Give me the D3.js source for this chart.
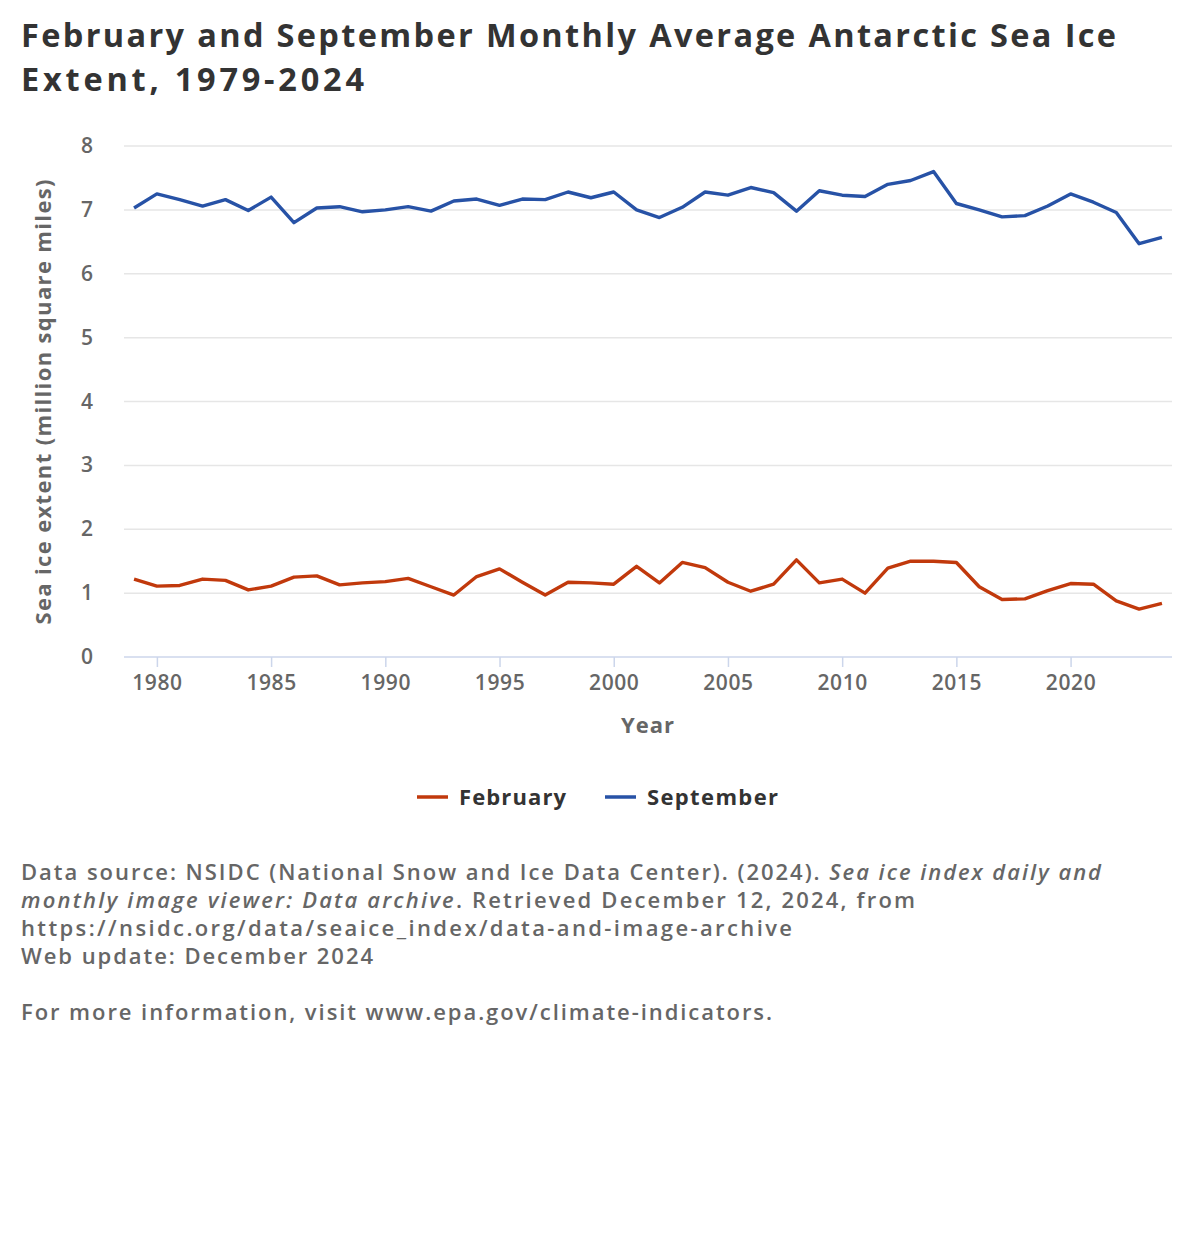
<!DOCTYPE html>
<html><head><meta charset="utf-8">
<script src="https://cdn.jsdelivr.net/npm/d3@7"></script>
<style>
body{margin:0;background:#fff;}
svg text{font-family:"Open Sans",sans-serif;}
</style></head>
<body><svg id="c" width="1182" height="1242"></svg>
<script>
const years = d3.range(1979, 2025);
const february = [1.22,1.11,1.12,1.22,1.20,1.05,1.11,1.25,1.27,1.13,1.16,1.18,1.23,1.10,0.97,1.26,1.38,1.17,0.97,1.17,1.16,1.14,1.42,1.16,1.48,1.40,1.17,1.03,1.14,1.52,1.16,1.22,1.00,1.39,1.50,1.50,1.48,1.10,0.90,0.91,1.04,1.15,1.14,0.88,0.75,0.84];
const september = [7.03,7.25,7.16,7.06,7.16,6.99,7.20,6.80,7.03,7.05,6.97,7.00,7.05,6.98,7.14,7.17,7.07,7.17,7.16,7.28,7.19,7.28,7.00,6.88,7.04,7.28,7.23,7.35,7.27,6.98,7.30,7.23,7.21,7.40,7.46,7.60,7.10,7.00,6.89,6.91,7.06,7.25,7.12,6.96,6.47,6.57];
const yTicks = [0,1,2,3,4,5,6,7,8];
const xTicks = [1980,1985,1990,1995,2000,2005,2010,2015,2020];
const seriesNames = ["February","September"];
const seriesColors = ["#c1390c","#2752a6"];
const titleLines = ["February and September Monthly Average Antarctic Sea Ice","Extent, 1979-2024"];

const svg = d3.select("#c");
const pLeft = 124, pRight = 1172, pTop = 146, pBottom = 657;
const x = d3.scaleLinear().domain([1978.56, 2024.44]).range([pLeft, pRight]);
const y = d3.scaleLinear().domain([0, 8]).range([pBottom, pTop]);

// title
const titleW = [1095, 343];
svg.append("g").selectAll("text").data(titleLines).join("text")
  .attr("x", 21).attr("y", (d,i)=>47 + i*44)
  .attr("font-size", 32.5).attr("font-weight", 700).attr("fill", "#333")
  .attr("textLength", (d,i)=>titleW[i]).attr("lengthAdjust", "spacing")
  .text(d=>d);

// gridlines
svg.append("g").selectAll("line").data(yTicks.filter(d=>d>0)).join("line")
  .attr("x1", pLeft).attr("x2", pRight).attr("y1", d=>y(d)).attr("y2", d=>y(d))
  .attr("stroke", "#e6e6e6").attr("stroke-width", 1.5);

// y labels
svg.append("g").selectAll("text").data(yTicks).join("text")
  .attr("x", 93).attr("y", d=>y(d)+7).attr("text-anchor","end")
  .attr("font-size", 21).attr("font-weight", 600).attr("fill", "#666")
  .text(d=>d);

// x axis
const xa = svg.append("g").attr("transform", `translate(0,${pBottom})`)
  .call(d3.axisBottom(x).tickValues(xTicks).tickFormat(d3.format("d")).tickSize(10).tickPadding(8));
xa.select(".domain").attr("stroke", "#ccd6eb").attr("stroke-width", 1.5).attr("d", `M${pLeft},0H${pRight}`);
xa.selectAll(".tick line").attr("stroke", "#ccd6eb").attr("stroke-width", 1.5);
xa.selectAll(".tick text").attr("font-size", 21).attr("font-weight", 600).attr("fill", "#666")
  .attr("letter-spacing", 0.6).attr("font-family", "'Open Sans',sans-serif");

// axis titles
svg.append("text").attr("x", 648).attr("y", 733).attr("text-anchor","middle")
  .attr("font-size", 22).attr("font-weight", 700).attr("fill", "#666")
  .attr("letter-spacing", 1).text("Year");
svg.append("text").attr("transform", "translate(51,402) rotate(-90)").attr("text-anchor","middle")
  .attr("font-size", 22).attr("font-weight", 700).attr("fill", "#666")
  .attr("textLength", 445).attr("lengthAdjust", "spacing")
  .text("Sea ice extent (million square miles)");

// lines
const line = d3.line().x((d,i)=>x(years[i])).y(d=>y(d));
[february, september].forEach((s, k) => {
  svg.append("path").datum(s).attr("d", line).attr("fill","none")
    .attr("stroke", seriesColors[k]).attr("stroke-width", 3.4).attr("stroke-linejoin","round");
});

// legend
const legX = [417, 605];
const legW = [107, 131];
const lg = svg.append("g").selectAll("g").data(seriesNames).join("g")
  .attr("transform", (d,i)=>`translate(${legX[i]},797)`);
lg.append("line").attr("x1",0).attr("x2",31).attr("y1",0).attr("y2",0)
  .attr("stroke",(d,i)=>seriesColors[i]).attr("stroke-width",3.5);
lg.append("text").attr("x", 42).attr("y", 8).attr("font-size", 22).attr("font-weight", 700)
  .attr("textLength", (d,i)=>legW[i]).attr("lengthAdjust", "spacing")
  .attr("fill", "#333").text(d=>d);

// footer
const ft = svg.append("g").attr("font-size", 22).attr("font-weight", 600).attr("fill", "#666");
const t1 = ft.append("text").attr("x", 21).attr("y", 880).attr("textLength", 1080).attr("lengthAdjust","spacing");
t1.append("tspan").text("Data source: NSIDC (National Snow and Ice Data Center). (2024). ");
t1.append("tspan").attr("font-style","italic").text("Sea ice index daily and");
const t2 = ft.append("text").attr("x", 21).attr("y", 908).attr("textLength", 894).attr("lengthAdjust","spacing");
t2.append("tspan").attr("font-style","italic").text("monthly image viewer: Data archive");
t2.append("tspan").text(". Retrieved December 12, 2024, from");
ft.append("text").attr("x", 21).attr("y", 936).attr("textLength", 771).attr("lengthAdjust","spacing")
  .text("https://nsidc.org/data/seaice_index/data-and-image-archive");
ft.append("text").attr("x", 21).attr("y", 964).attr("textLength", 352).attr("lengthAdjust","spacing")
  .text("Web update: December 2024");
ft.append("text").attr("x", 21).attr("y", 1020).attr("textLength", 751).attr("lengthAdjust","spacing")
  .text("For more information, visit www.epa.gov/climate-indicators.");
</script></body></html>
